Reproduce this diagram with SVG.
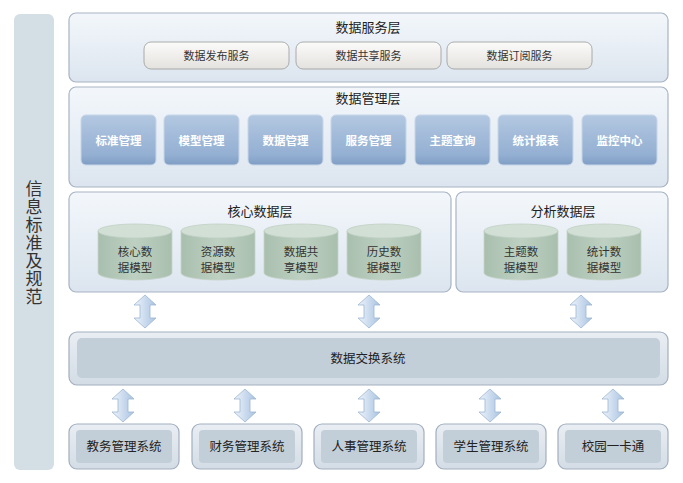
<svg xmlns="http://www.w3.org/2000/svg" width="683" height="483" viewBox="0 0 683 483">
<defs>
<linearGradient id="gPanel" x1="0" y1="0" x2="0" y2="1"><stop offset="0" stop-color="#f3f7fb"/><stop offset="1" stop-color="#dce5ef"/></linearGradient>
<linearGradient id="gBtn" x1="0" y1="0" x2="0" y2="1"><stop offset="0" stop-color="#fbfbfa"/><stop offset="1" stop-color="#e4e2de"/></linearGradient>
<linearGradient id="gMgmt" x1="0" y1="0" x2="0" y2="1"><stop offset="0" stop-color="#b3c8e1"/><stop offset="0.8" stop-color="#93afd2"/><stop offset="1" stop-color="#7f9dc4"/></linearGradient>
<linearGradient id="gCyl" x1="0" y1="0" x2="1" y2="0"><stop offset="0" stop-color="#a9bfae"/><stop offset="0.5" stop-color="#bdd0c1"/><stop offset="1" stop-color="#a9bfae"/></linearGradient>
<linearGradient id="gArrow" x1="0" y1="0" x2="1" y2="0"><stop offset="0" stop-color="#eef4fb"/><stop offset="1" stop-color="#a9c3e2"/></linearGradient>
<linearGradient id="gSys" x1="0" y1="0" x2="0" y2="1"><stop offset="0" stop-color="#e9eef3"/><stop offset="1" stop-color="#d3dce5"/></linearGradient>
<path id="arr" d="M0,0 L11,10 L5,10 L5,23 L11,23 L0,33 L-11,23 L-5,23 L-5,10 L-11,10 Z" fill="url(#gArrow)" stroke="#9db6d3" stroke-width="0.8"/>
</defs>
<style>
.panel{fill:url(#gPanel);stroke:#a8b4c4;stroke-width:1.2}
.title{font-family:"Noto Sans CJK SC","Noto Sans",sans-serif;font-size:13px;fill:#222;text-anchor:middle}
.btn{fill:url(#gBtn);stroke:#9a9a9a;stroke-width:0.8}
.btnt{font-family:"Noto Sans CJK SC","Noto Sans",sans-serif;font-size:11px;fill:#333;text-anchor:middle}
.mg{fill:url(#gMgmt);stroke:#c8d6e8;stroke-width:1}
.mgt{font-family:"Noto Sans CJK SC","Noto Sans",sans-serif;font-size:11.5px;fill:#fff;font-weight:bold;text-anchor:middle}
.cyl{fill:url(#gCyl);stroke:#c6d4ca;stroke-width:0.8}
.cyltop{fill:#d2dfd5;stroke:#c0cfc4;stroke-width:0.8}
.cylt{font-family:"Noto Sans CJK SC","Noto Sans",sans-serif;font-size:11.5px;fill:#333;text-anchor:middle}
.sys{fill:url(#gSys);stroke:#a3afbf;stroke-width:1.2}
.sysin{fill:#c2ced8}
.syst{font-family:"Noto Sans CJK SC","Noto Sans",sans-serif;font-size:12.5px;fill:#222;text-anchor:middle}
.side{font-family:"Noto Sans CJK SC","Noto Sans",sans-serif;font-size:17px;fill:#333;text-anchor:middle;writing-mode:vertical-rl;letter-spacing:1px}
</style>
<g id="sidebar">
<rect x="14" y="14" width="40" height="456" rx="6" fill="#d4dee5"/>
<text class="side" x="34" y="243">信息标准及规范</text>
</g>
<g id="service-layer">
<rect class="panel" x="69" y="13" width="599" height="69" rx="7"/>
<text class="title" x="368" y="32">数据服务层</text>
<g id="svc1"><rect class="btn" x="144" y="42" width="145" height="27" rx="7"/><text class="btnt" x="216.5" y="60">数据发布服务</text></g>
<g id="svc2"><rect class="btn" x="296" y="42" width="145" height="27" rx="7"/><text class="btnt" x="368.5" y="60">数据共享服务</text></g>
<g id="svc3"><rect class="btn" x="447" y="42" width="145" height="27" rx="7"/><text class="btnt" x="519.5" y="60">数据订阅服务</text></g>
</g>
<g id="management-layer">
<rect class="panel" x="69" y="87" width="599" height="100" rx="7"/>
<text class="title" x="368" y="103">数据管理层</text>
<g id="m1"><rect class="mg" x="81" y="115" width="75" height="50" rx="5"/><text class="mgt" x="118.5" y="145">标准管理</text></g>
<g id="m2"><rect class="mg" x="164" y="115" width="75" height="50" rx="5"/><text class="mgt" x="201.5" y="145">模型管理</text></g>
<g id="m3"><rect class="mg" x="248" y="115" width="75" height="50" rx="5"/><text class="mgt" x="285.5" y="145">数据管理</text></g>
<g id="m4"><rect class="mg" x="331" y="115" width="75" height="50" rx="5"/><text class="mgt" x="368.5" y="145">服务管理</text></g>
<g id="m5"><rect class="mg" x="415" y="115" width="75" height="50" rx="5"/><text class="mgt" x="452.5" y="145">主题查询</text></g>
<g id="m6"><rect class="mg" x="498" y="115" width="75" height="50" rx="5"/><text class="mgt" x="535.5" y="145">统计报表</text></g>
<g id="m7"><rect class="mg" x="582" y="115" width="75" height="50" rx="5"/><text class="mgt" x="619.5" y="145">监控中心</text></g>
</g>
<g id="core-layer">
<rect class="panel" x="69" y="192" width="382" height="100" rx="7"/>
<text class="title" x="260" y="216">核心数据层</text>
<g id="c1"><path class="cyl" d="M98,231 L98,273 A37,7 0 0 0 172,273 L172,231 Z"/><ellipse class="cyltop" cx="135" cy="231" rx="37" ry="7"/><text class="cylt" x="135" y="256">核心数</text><text class="cylt" x="135" y="272">据模型</text></g>
<g id="c2"><path class="cyl" d="M181,231 L181,273 A37,7 0 0 0 255,273 L255,231 Z"/><ellipse class="cyltop" cx="218" cy="231" rx="37" ry="7"/><text class="cylt" x="218" y="256">资源数</text><text class="cylt" x="218" y="272">据模型</text></g>
<g id="c3"><path class="cyl" d="M264,231 L264,273 A37,7 0 0 0 338,273 L338,231 Z"/><ellipse class="cyltop" cx="301" cy="231" rx="37" ry="7"/><text class="cylt" x="301" y="256">数据共</text><text class="cylt" x="301" y="272">享模型</text></g>
<g id="c4"><path class="cyl" d="M347,231 L347,273 A37,7 0 0 0 421,273 L421,231 Z"/><ellipse class="cyltop" cx="384" cy="231" rx="37" ry="7"/><text class="cylt" x="384" y="256">历史数</text><text class="cylt" x="384" y="272">据模型</text></g>
</g>
<g id="analysis-layer">
<rect class="panel" x="456" y="192" width="212" height="100" rx="7"/>
<text class="title" x="563" y="216">分析数据层</text>
<g id="a1"><path class="cyl" d="M484,231 L484,273 A37,7 0 0 0 558,273 L558,231 Z"/><ellipse class="cyltop" cx="521" cy="231" rx="37" ry="7"/><text class="cylt" x="521" y="256">主题数</text><text class="cylt" x="521" y="272">据模型</text></g>
<g id="a2"><path class="cyl" d="M567,231 L567,273 A37,7 0 0 0 641,273 L641,231 Z"/><ellipse class="cyltop" cx="604" cy="231" rx="37" ry="7"/><text class="cylt" x="604" y="256">统计数</text><text class="cylt" x="604" y="272">据模型</text></g>
</g>
<g id="exchange">
<rect class="sys" x="69" y="332" width="599" height="53" rx="8"/>
<rect class="sysin" x="77" y="338" width="583" height="40" rx="5"/>
<text class="syst" x="368" y="363">数据交换系统</text>
</g>
<g id="s1"><rect class="sys" x="69" y="424" width="110" height="45" rx="8"/><rect class="sysin" x="76" y="430" width="96" height="33" rx="4"/><text class="syst" x="124" y="451">教务管理系统</text></g>
<g id="s2"><rect class="sys" x="192" y="424" width="110" height="45" rx="8"/><rect class="sysin" x="199" y="430" width="96" height="33" rx="4"/><text class="syst" x="247" y="451">财务管理系统</text></g>
<g id="s3"><rect class="sys" x="314" y="424" width="110" height="45" rx="8"/><rect class="sysin" x="321" y="430" width="96" height="33" rx="4"/><text class="syst" x="369" y="451">人事管理系统</text></g>
<g id="s4"><rect class="sys" x="436" y="424" width="110" height="45" rx="8"/><rect class="sysin" x="443" y="430" width="96" height="33" rx="4"/><text class="syst" x="491" y="451">学生管理系统</text></g>
<g id="s5"><rect class="sys" x="558" y="424" width="110" height="45" rx="8"/><rect class="sysin" x="565" y="430" width="96" height="33" rx="4"/><text class="syst" x="613" y="451">校园一卡通</text></g>
<g id="connectors">
<use href="#arr" x="145" y="295"/>
<use href="#arr" x="369" y="295"/>
<use href="#arr" x="581" y="295"/>
<use href="#arr" x="123" y="389"/>
<use href="#arr" x="245" y="389"/>
<use href="#arr" x="369" y="389"/>
<use href="#arr" x="490" y="389"/>
<use href="#arr" x="613" y="389"/>
</g>
</svg>
